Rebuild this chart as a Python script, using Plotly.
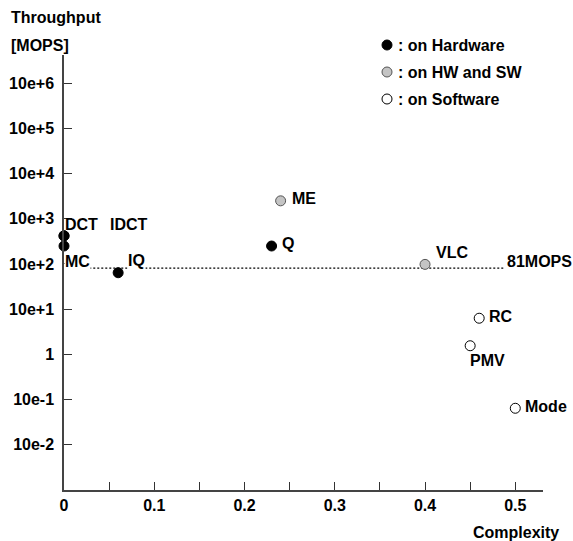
import math
import plotly.graph_objects as go

# ---------------- data ----------------
names = ["DCT", "IDCT", "MC", "IQ", "Q", "ME", "VLC", "RC", "PMV", "Mode"]
complexity = [0.0, 0.0, 0.0, 0.06, 0.23, 0.24, 0.40, 0.46, 0.45, 0.50]
throughput = [420, 420, 250, 64, 250, 2500, 98, 6.3, 1.55, 0.064]
category = ["hw", "hw", "hw", "hw", "hw", "hwsw", "hwsw", "sw", "sw", "sw"]

threshold_value = 81
threshold_label = "81MOPS"
threshold_span = [0.028, 0.487]

legend_keys = ["hw", "hwsw", "sw"]
legend_labels = [": on Hardware", ": on HW and SW", ": on Software"]

x_tick_vals = [0, 0.05, 0.1, 0.15, 0.2, 0.25, 0.3, 0.35, 0.4, 0.45, 0.5]
x_tick_text = ["0", "", "0.1", "", "0.2", "", "0.3", "", "0.4", "", "0.5"]
y_tick_vals = [1e-2, 1e-1, 1, 1e1, 1e2, 1e3, 1e4, 1e5, 1e6]
y_tick_text = ["10e-2", "10e-1", "1", "10e+1", "10e+2", "10e+3", "10e+4", "10e+5", "10e+6"]

# ---------------- style ----------------
W, H = 573, 541
L, R, T, B = 64, 30, 55, 51
PW, PH = W - L - R, H - T - B
FONT = "Liberation Sans, Arial, sans-serif"
FS = 16

styles = {
    "hw": dict(color="#000000", line=dict(color="#000000", width=1)),
    "hwsw": dict(color="#c4c4c4", line=dict(color="#555555", width=1)),
    "sw": dict(color="#ffffff", line=dict(color="#000000", width=1)),
}
# label offsets (px) relative to each point: (xshift, yshift)
label_offsets = {
    "DCT": (0, 11), "IDCT": (45, 11), "MC": (0, -15), "IQ": (9, 12),
    "Q": (9, 3), "ME": (10, 2), "VLC": (10, 12), "RC": (9, 2),
    "PMV": (-1, -15), "Mode": (9, 2),
}
white_bg = {"IQ", "MC"}


def px_x(p):
    return (p - L) / PW


def px_y(p):
    return (H - B - p) / PH


fig = go.Figure()

# threshold dotted line
fig.add_trace(go.Scatter(
    x=threshold_span, y=[threshold_value, threshold_value], mode="lines",
    line=dict(color="#000000", width=1.1, dash="2px,2px"),
    hoverinfo="skip", showlegend=False))

for key in legend_keys:
    xs = [c for c, k in zip(complexity, category) if k == key]
    ys = [t for t, k in zip(throughput, category) if k == key]
    fig.add_trace(go.Scatter(
        x=xs, y=ys, mode="markers", cliponaxis=False, showlegend=False,
        marker=dict(size=10, symbol="circle", **styles[key])))

annotations = []
for n, c, t in zip(names, complexity, throughput):
    dx, dy = label_offsets[n]
    annotations.append(dict(
        x=c, y=math.log10(t), xref="x", yref="y", text=n, showarrow=False,
        xanchor="left", yanchor="middle", xshift=dx, yshift=dy, borderpad=0,
        bgcolor="#ffffff" if n in white_bg else None,
        font=dict(family=FONT, size=FS, color="#000", weight="bold")))

annotations.append(dict(
    x=threshold_span[1], y=math.log10(threshold_value), xref="x", yref="y",
    text=threshold_label, showarrow=False, xanchor="left", yanchor="middle",
    xshift=2, yshift=7, borderpad=0,
    font=dict(family=FONT, size=FS, color="#000", weight="bold")))

# legend (custom)
shapes = []
for i, (key, lab) in enumerate(zip(legend_keys, legend_labels)):
    yy = 45 + 27 * i
    st = styles[key]
    shapes.append(dict(
        type="circle", xref="paper", yref="paper",
        xsizemode="pixel", ysizemode="pixel",
        xanchor=px_x(387), yanchor=px_y(yy), x0=-5, x1=5, y0=-5, y1=5,
        fillcolor=st["color"], line=dict(color=st["line"]["color"], width=1)))
    annotations.append(dict(
        x=px_x(397), y=px_y(yy), xref="paper", yref="paper", text=lab,
        showarrow=False, xanchor="left", yanchor="middle", borderpad=0,
        font=dict(family=FONT, size=FS, color="#000", weight="bold")))

# axis titles
for txt, xx, yy, anc in [("Throughput", 10, 18, "left"), ("[MOPS]", 10, 45, "left"),
                         ("Complexity", 516, 532, "center")]:
    annotations.append(dict(
        x=px_x(xx), y=px_y(yy), xref="paper", yref="paper", text=txt,
        showarrow=False, xanchor=anc, yanchor="middle", borderpad=0,
        font=dict(family=FONT, size=FS, color="#000", weight="bold")))

fig.update_layout(
    width=W, height=H, margin=dict(l=L, r=R, t=T, b=B, pad=0),
    paper_bgcolor="#ffffff", plot_bgcolor="#ffffff",
    showlegend=False, annotations=annotations, shapes=shapes,
    font=dict(family=FONT, size=FS, color="#000"),
)
fig.update_xaxes(
    range=[0, 0.5307], tickvals=x_tick_vals, ticktext=x_tick_text,
    showline=True, linecolor="#444444", linewidth=1.5, showgrid=False,
    zeroline=False, ticks="inside", ticklen=8, tickcolor="#333333", tickwidth=1,
    automargin=False,
    tickfont=dict(family=FONT, size=FS, color="#000", weight="bold"))
fig.update_yaxes(
    type="log", range=[-3.003, 6.626], tickvals=y_tick_vals, ticktext=y_tick_text,
    showline=True, linecolor="#444444", linewidth=1.5, showgrid=False,
    zeroline=False, ticks="inside", ticklen=8, tickcolor="#333333", tickwidth=1,
    ticklabelstandoff=5, automargin=False,
    tickfont=dict(family=FONT, size=FS, color="#000", weight="bold"))

fig.write_html(
    "out.html",
    config={"displayModeBar": False},
    post_script="document.body.style.margin='0';document.body.style.overflow='hidden';",
)
